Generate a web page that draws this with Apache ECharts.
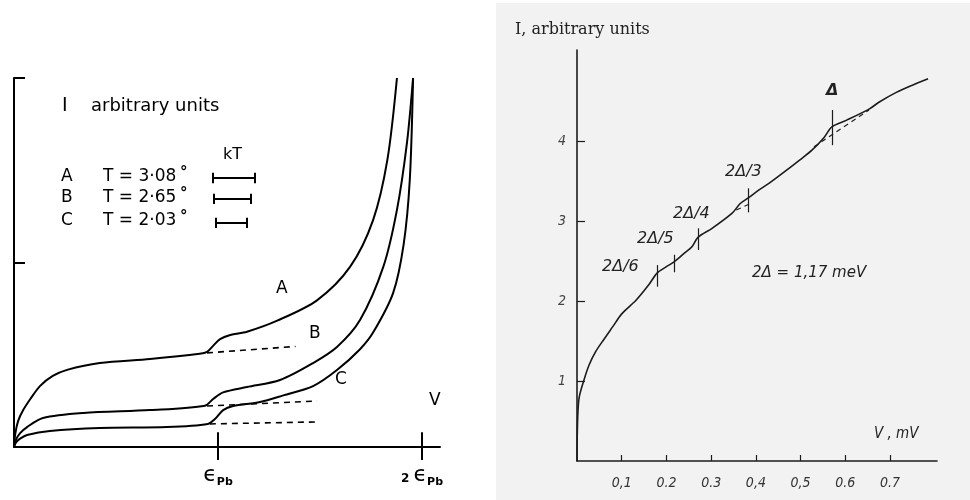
<!DOCTYPE html>
<html><head><meta charset="utf-8">
<script src="https://cdn.jsdelivr.net/npm/echarts@6/dist/echarts.min.js"></script>
<style>html,body{margin:0;padding:0;background:#fff}#c{width:970px;height:500px}</style>
</head><body><div id="c"></div>
<script>
// ---- Left panel: tunnelling current vs. bias (V in units of ε_Pb) at three temperatures ----
const curveA = [[0,0],[0.006,0.07],[0.02,0.14],[0.045,0.2],[0.08,0.26],[0.127,0.33],[0.19,0.385],[0.26,0.418],[0.42,0.455],[0.667,0.477],[0.91,0.505],[0.946,0.515],[0.976,0.548],[1.01,0.585],[1.06,0.607],[1.142,0.625],[1.29,0.685],[1.485,0.795],[1.647,0.976],[1.76,1.23],[1.83,1.556],[1.877,2.0]];
const curveB = [[0,0],[0.01,0.04],[0.03,0.075],[0.064,0.108],[0.142,0.157],[0.34,0.184],[0.667,0.2],[0.936,0.224],[0.976,0.26],[1.025,0.296],[1.142,0.325],[1.304,0.363],[1.466,0.455],[1.583,0.542],[1.696,0.688],[1.81,0.976],[1.877,1.285],[1.926,1.648],[1.956,2.0]];
const curveC = [[0,0],[0.01,0.025],[0.03,0.045],[0.064,0.065],[0.176,0.087],[0.42,0.103],[0.75,0.108],[0.95,0.125],[0.985,0.152],[1.025,0.2],[1.074,0.222],[1.206,0.244],[1.32,0.28],[1.466,0.33],[1.583,0.417],[1.696,0.53],[1.76,0.62],[1.858,0.834],[1.91,1.1],[1.94,1.45],[1.956,2.0]];
// extrapolated background below the ε_Pb step
const baseA = [[0.946,0.51],[1.38,0.545]];
const baseB = [[0.946,0.222],[1.485,0.249]];
const baseC = [[0.96,0.125],[1.49,0.136]];
const curveNames = ['A','B','C'];
const temps = ['3·08','2·65','2·03'];
const kTWidth = [0.206,0.181,0.152];          // kT bar length, ε_Pb units
const leftTicks = [1,2];
const leftTickLabels = ['{e|ϵ}{s|Pb}','{n|2 }{e|ϵ}{s|Pb}'];

// ---- Right panel: I–V with subharmonic gap structure ----
const ivCurve = [[0,0],[0.0005,0.3],[0.002,0.6],[0.005,0.8],[0.016,1.02],[0.027,1.2],[0.042,1.37],[0.06,1.52],[0.08,1.68],[0.1,1.84],[0.132,2.01],[0.16,2.2],[0.179,2.35],[0.2,2.43],[0.217,2.49],[0.24,2.6],[0.257,2.68],[0.271,2.8],[0.302,2.91],[0.347,3.1],[0.365,3.22],[0.383,3.29],[0.407,3.39],[0.436,3.5],[0.474,3.66],[0.497,3.76],[0.526,3.89],[0.553,4.05],[0.57,4.18],[0.602,4.26],[0.653,4.4],[0.676,4.49],[0.714,4.61],[0.75,4.7],[0.785,4.78]];
const gapX = [0.179,0.217,0.271,0.383,0.570];
const gapSpan = [[2.18,2.45],[2.36,2.58],[2.64,2.91],[3.11,3.41],[3.95,4.39]];
const gapLabels = ['2Δ/6','2Δ/5','2Δ/4','2Δ/3','Δ'];
const gapDash = [[[0.53,3.93],[0.653,4.39]],[[0.356,3.14],[0.389,3.22]]];
const vTicks = [0.1,0.2,0.3,0.4,0.5,0.6,0.7];
const vTickLabels = ['0,1','0.2','0.3','0,4','0,5','0.6','0.7'];
const iTicks = [1,2,3,4];

const chart = echarts.init(document.getElementById('c'), null, {renderer:'canvas'});
const INK = '#000';
const SCAN = '#1c1c1c';
const handFont = 'DejaVu Sans';
const italicFont = 'DejaVu Sans';
const condFont = 'DejaVu Sans Condensed, DejaVu Sans';

function seg(a, b){ return [{coord:a},{coord:b}]; }

// markLines for the left panel: crossing ticks and kT scale bars
const leftMarks = [];
leftTicks.forEach(v => leftMarks.push(seg([v,0],[v,0.08])));
leftMarks.push(seg([-0.035,2],[0,2]));
const kTx0 = 0.975, kTrows = [1.458,1.345,1.215];
kTWidth.forEach((w,i) => {
  const y = kTrows[i], x0 = kTx0 + (0.2 - w) / 4;
  leftMarks.push(seg([x0,y],[x0+w,y]));
  leftMarks.push(seg([x0,y-0.028],[x0,y+0.028]));
  leftMarks.push(seg([x0+w,y-0.028],[x0+w,y+0.028]));
});
const rightMarks = gapX.map((x,i) => seg([x,gapSpan[i][0]],[x,gapSpan[i][1]]));

const lineBase = {type:'line', showSymbol:false, smooth:0.3, silent:true, animation:false};
const rowTop = [168,189,212];

const option = {
  animation:false,
  graphic:[
    {type:'rect', z:-10, shape:{x:496,y:3,width:474,height:497}, style:{fill:'#f2f2f2'}},
    // left panel lettering
    {type:'text', left:62, top:97, style:{text:'I', font:'19px '+handFont, fill:INK}},
    {type:'text', left:91, top:97, style:{text:'arbitrary units', font:'18px '+handFont, fill:INK}},
    {type:'text', left:223, top:147, style:{text:'kT', font:'16px '+handFont, fill:INK}},
    ...curveNames.map((n,i)=>({type:'text', left:61, top:rowTop[i], style:{text:n, font:'17px '+handFont, fill:INK}})),
    ...temps.map((t,i)=>({type:'text', left:103, top:rowTop[i], style:{text:'T = '+t, font:'17px '+handFont, fill:INK}})),
    ...temps.map((t,i)=>({type:'text', left:180, top:rowTop[i]-2, style:{text:'°', font:'bold 15px '+handFont, fill:INK}})),
    {type:'text', left:276, top:280, style:{text:'A', font:'17px '+handFont, fill:INK}},
    {type:'text', left:309, top:325, style:{text:'B', font:'17px '+handFont, fill:INK}},
    {type:'text', left:335, top:371, style:{text:'C', font:'17px '+handFont, fill:INK}},
    {type:'text', left:429, top:392, style:{text:'V', font:'17px '+handFont, fill:INK}},
    // right panel lettering
    {type:'text', left:515, top:22, style:{text:'I, arbitrary units', font:'16px DejaVu Serif', fill:'#222'}},
    {type:'text', left:874, top:427, style:{text:'V , mV', font:'italic 15px '+condFont, fill:'#222'}},
    {type:'text', left:752, top:266, style:{text:'2Δ = 1,17 meV', font:'italic 15px '+italicFont, fill:'#222'}},
    {type:'text', left:602, top:259, style:{text:gapLabels[0], font:'italic 16px '+italicFont, fill:'#222'}},
    {type:'text', left:637, top:231, style:{text:gapLabels[1], font:'italic 16px '+italicFont, fill:'#222'}},
    {type:'text', left:673, top:206, style:{text:gapLabels[2], font:'italic 16px '+italicFont, fill:'#222'}},
    {type:'text', left:725, top:164, style:{text:gapLabels[3], font:'italic 16px '+italicFont, fill:'#222'}},
    {type:'text', left:826, top:83, style:{text:gapLabels[4], font:'italic bold 16px '+italicFont, fill:'#222'}}
  ],
  grid:[
    {left:14, top:78, width:426, height:369},
    {left:577, top:50, width:360, height:411}
  ],
  xAxis:[
    {gridIndex:0, type:'value', min:0, max:2.088,
     axisLine:{lineStyle:{color:INK, width:2}},
     axisTick:{show:true, customValues:leftTicks, length:13, lineStyle:{color:INK,width:2}},
     axisLabel:{show:true, customValues:leftTicks, margin:16,
       formatter:v=>leftTickLabels[leftTicks.indexOf(v)],
       rich:{e:{fontSize:22, fontFamily:handFont, color:INK},
             s:{fontSize:11, fontWeight:'bold', fontFamily:handFont, color:INK, padding:[14,0,0,0]},
             n:{fontSize:12, fontWeight:'bold', fontFamily:handFont, color:INK, padding:[6,0,0,0]}}},
     splitLine:{show:false}},
    {gridIndex:1, type:'value', min:0, max:0.805,
     axisLine:{lineStyle:{color:SCAN, width:1.6}},
     axisTick:{inside:true, customValues:vTicks, length:6, lineStyle:{color:SCAN, width:1.2}},
     axisLabel:{customValues:vTicks, margin:15, fontFamily:condFont, fontStyle:'italic', fontSize:14, color:'#333',
       formatter:v=>vTickLabels[vTicks.findIndex(t=>Math.abs(t-v)<1e-6)]||''},
     splitLine:{show:false}}
  ],
  yAxis:[
    {gridIndex:0, type:'value', min:0, max:2, interval:1,
     axisLine:{lineStyle:{color:INK, width:2}},
     axisTick:{inside:true, length:11, lineStyle:{color:INK,width:2}},
     axisLabel:{show:false}, splitLine:{show:false}},
    {gridIndex:1, type:'value', min:0, max:5.14,
     axisLine:{lineStyle:{color:SCAN, width:1.6}},
     axisTick:{inside:true, customValues:iTicks, length:8, lineStyle:{color:SCAN, width:1.2}},
     axisLabel:{customValues:iTicks, margin:11, fontFamily:condFont, fontStyle:'italic', fontSize:14, color:'#444'},
     splitLine:{show:false}}
  ],
  series:[
    Object.assign({}, lineBase, {name:'A', xAxisIndex:0, yAxisIndex:0, data:curveA, lineStyle:{color:INK,width:2},
      markLine:{silent:true, symbol:['none','none'], label:{show:false}, lineStyle:{color:INK,width:2,type:'solid'}, data:leftMarks}}),
    Object.assign({}, lineBase, {name:'B', xAxisIndex:0, yAxisIndex:0, data:curveB, lineStyle:{color:INK,width:2}}),
    Object.assign({}, lineBase, {name:'C', xAxisIndex:0, yAxisIndex:0, data:curveC, lineStyle:{color:INK,width:2}}),
    ...[baseA,baseB,baseC].map(d=>Object.assign({}, lineBase, {smooth:false, xAxisIndex:0, yAxisIndex:0, data:d, lineStyle:{color:INK,width:1.6,type:[6,5]}})),
    Object.assign({}, lineBase, {name:'I(V)', xAxisIndex:1, yAxisIndex:1, data:ivCurve, lineStyle:{color:SCAN,width:1.6},
      markLine:{silent:true, symbol:['none','none'], label:{show:false}, lineStyle:{color:SCAN,width:1.2,type:'solid'}, data:rightMarks}}),
    ...gapDash.map(d=>Object.assign({}, lineBase, {smooth:false, xAxisIndex:1, yAxisIndex:1, data:d, lineStyle:{color:SCAN,width:1.1,type:[5,4]}}))
  ]
};
chart.setOption(option);
</script></body></html>
